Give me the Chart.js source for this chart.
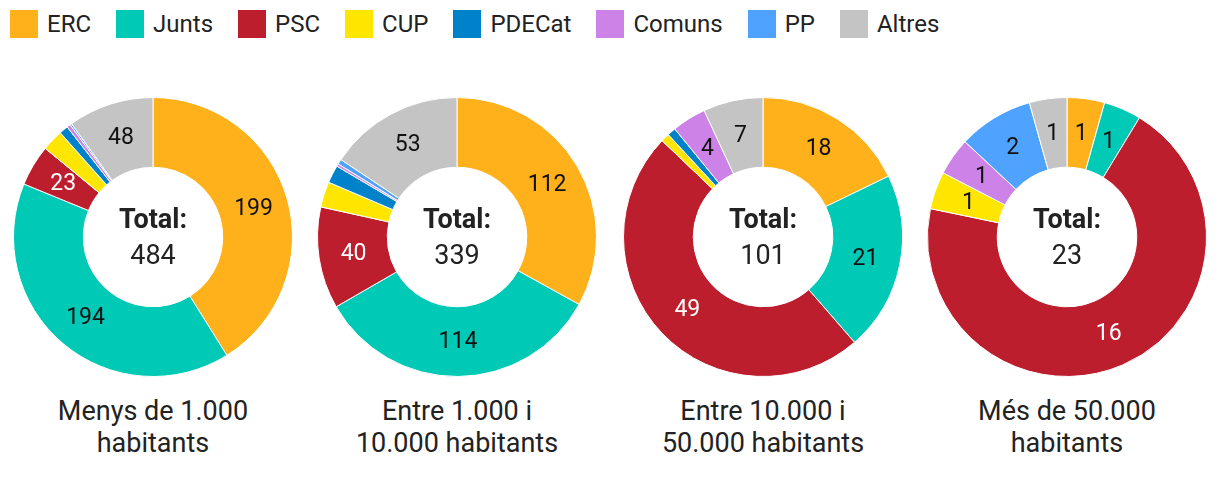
<!DOCTYPE html>
<html>
<head>
<meta charset="utf-8">
<script src="https://cdn.jsdelivr.net/npm/chart.js@4.4.1/dist/chart.umd.min.js"></script>
<style>
  html, body { margin: 0; padding: 0; background: #fff; }
  body { width: 1220px; height: 490px; position: relative; overflow: hidden; font-family: Roboto, "Noto Sans", sans-serif; color: #222; }
  #legend { position: absolute; left: 10px; top: 10px; display: flex; align-items: center; font-size: 24px; line-height: 28px; }
  .item { display: flex; align-items: center; margin-right: 25px; }
  .box { width: 28px; height: 28px; margin-right: 9px; }
  .chartwrap { position: absolute; top: 97px; width: 280px; height: 280px; }
  .title { position: absolute; top: 395px; width: 300px; text-align: center; font-size: 27px; line-height: 32px; color: #222; }
</style>
</head>
<body>
<div id="legend"></div>
<div class="chartwrap" style="left:13px"><canvas id="c0" width="280" height="280"></canvas></div>
<div class="chartwrap" style="left:317px"><canvas id="c1" width="280" height="280"></canvas></div>
<div class="chartwrap" style="left:623px"><canvas id="c2" width="280" height="280"></canvas></div>
<div class="chartwrap" style="left:927px"><canvas id="c3" width="280" height="280"></canvas></div>
<div class="title" id="t0" style="left:3px"></div>
<div class="title" id="t1" style="left:307px"></div>
<div class="title" id="t2" style="left:613px"></div>
<div class="title" id="t3" style="left:917px"></div>
<script>
// ---- data ----
const categories = ['ERC', 'Junts', 'PSC', 'CUP', 'PDECat', 'Comuns', 'PP', 'Altres'];
const groupTitles = [
  ['Menys de 1.000', 'habitants'],
  ['Entre 1.000 i', '10.000 habitants'],
  ['Entre 10.000 i', '50.000 habitants'],
  ['Més de 50.000', 'habitants']
];
const valuesUnder1000 = [199, 194, 23, 12, 5, 2, 1, 48];
const values1000to10000 = [112, 114, 40, 10, 7, 1, 2, 53];
const values10000to50000 = [18, 21, 49, 1, 1, 4, 0, 7];
const valuesOver50000 = [1, 1, 16, 1, 0, 1, 2, 1];
const totalLabel = 'Total:';

// ---- styles ----
const colors = ['#FFB11B', '#00C9B5', '#BD1E2D', '#FFE600', '#0082CB', '#CC82E6', '#4FA3FF', '#C4C4C4'];
const labelColors = ['#111', '#111', '#fff', '#111', '#fff', '#111', '#111', '#111'];
const FONT = 'Roboto, "Noto Sans", sans-serif';

// legend
const legend = document.getElementById('legend');
categories.forEach((c, i) => {
  const it = document.createElement('div'); it.className = 'item';
  const b = document.createElement('div'); b.className = 'box'; b.style.background = colors[i];
  const s = document.createElement('span'); s.textContent = c;
  it.appendChild(b); it.appendChild(s); legend.appendChild(it);
});

const allSeries = [valuesUnder1000, values1000to10000, values10000to50000, valuesOver50000];

const sliceLabels = {
  id: 'sliceLabels',
  afterDatasetsDraw(chart) {
    const ctx = chart.ctx;
    const meta = chart.getDatasetMeta(0);
    const data = chart.data.datasets[0].data;
    ctx.save();
    ctx.font = '23px ' + FONT;
    ctx.textAlign = 'center';
    ctx.textBaseline = 'middle';
    meta.data.forEach((arc, i) => {
      const p = arc.getProps(['startAngle', 'endAngle', 'innerRadius', 'outerRadius', 'x', 'y'], true);
      const span = (p.endAngle - p.startAngle) * 180 / Math.PI;
      if (data[i] <= 0 || span < 12) return;
      const mid = (p.startAngle + p.endAngle) / 2;
      const r = (p.innerRadius + p.outerRadius) / 2;
      ctx.fillStyle = labelColors[i];
      ctx.fillText(String(data[i]), p.x + Math.cos(mid) * r, p.y + Math.sin(mid) * r + 1);
    });
    ctx.restore();
  }
};

const centerText = {
  id: 'centerText',
  afterDraw(chart) {
    const meta = chart.getDatasetMeta(0);
    if (!meta.data.length) return;
    const { x, y } = meta.data[0];
    const total = chart.data.datasets[0].data.reduce((a, b) => a + b, 0);
    const ctx = chart.ctx;
    ctx.save();
    ctx.textAlign = 'center';
    ctx.textBaseline = 'middle';
    ctx.fillStyle = '#222';
    ctx.font = 'bold 27px ' + FONT;
    ctx.fillText(totalLabel, x, y - 16);
    ctx.font = '27px ' + FONT;
    ctx.fillText(String(total), x, y + 20);
    ctx.restore();
  }
};

allSeries.forEach((vals, k) => {
  new Chart(document.getElementById('c' + k), {
    type: 'doughnut',
    data: {
      labels: categories,
      datasets: [{ data: vals, backgroundColor: colors, borderColor: '#fff', borderWidth: 1 }]
    },
    options: {
      responsive: false,
      animation: false,
      cutout: '50%',
      layout: { padding: 0 },
      plugins: { legend: { display: false }, tooltip: { enabled: false } }
    },
    plugins: [sliceLabels, centerText]
  });
  const t = document.getElementById('t' + k);
  t.innerHTML = groupTitles[k].map(s => s.replace(/&/g, '&amp;').replace(/</g, '&lt;')).join('<br>');
});
</script>
</body>
</html>
